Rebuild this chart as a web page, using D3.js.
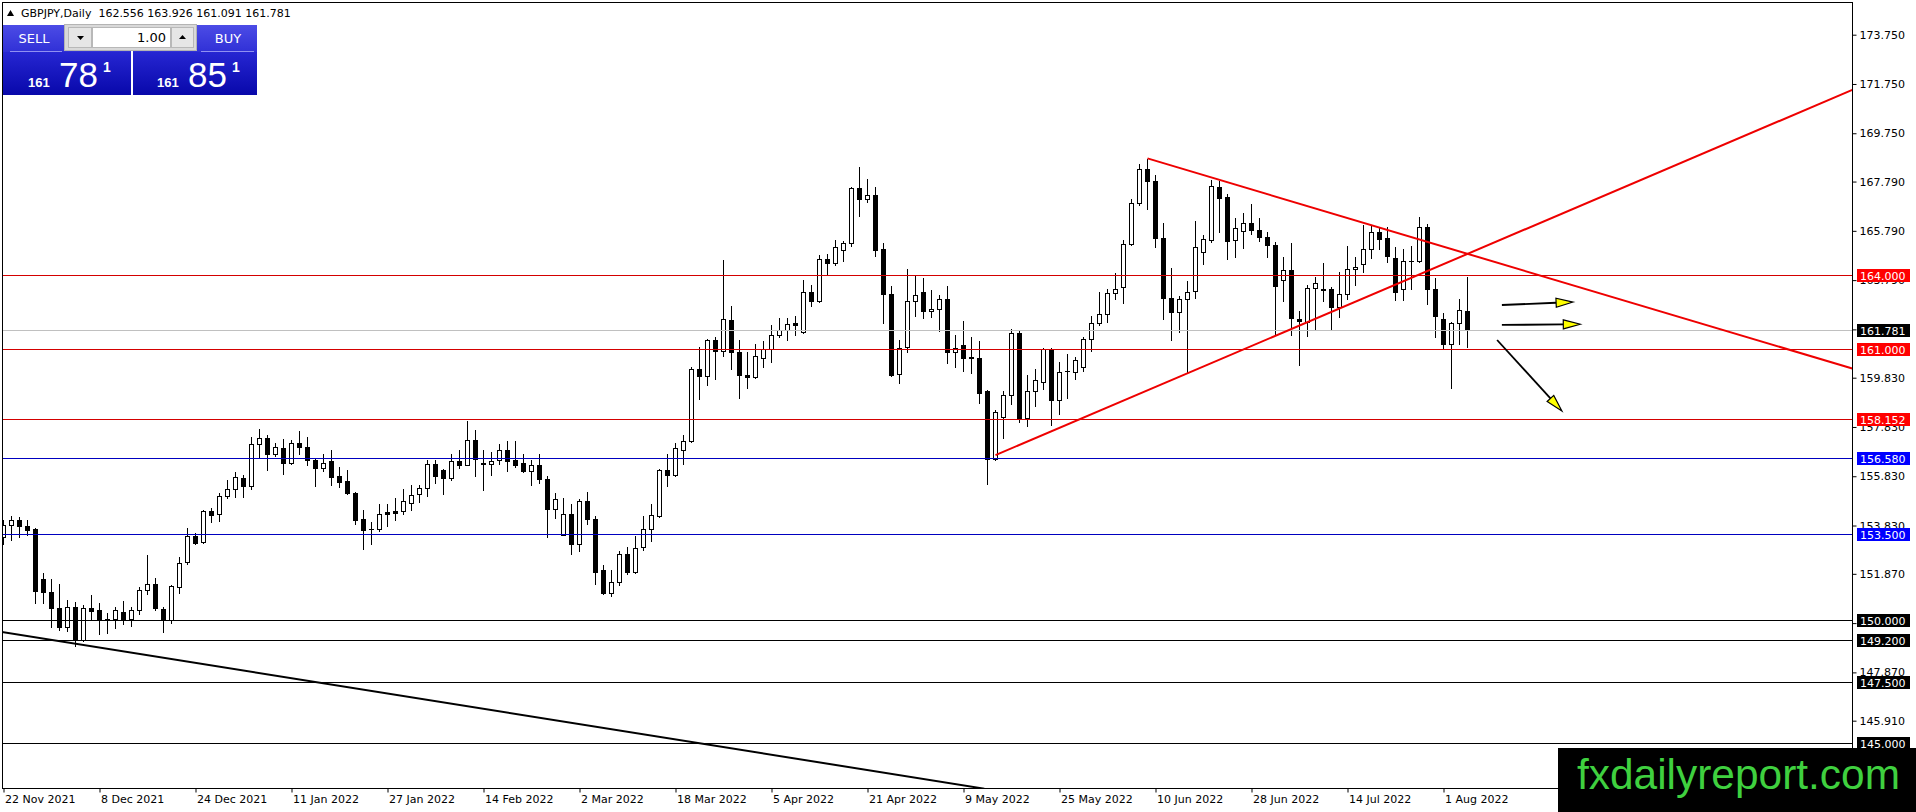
<!DOCTYPE html>
<html><head><meta charset="utf-8">
<script src="https://cdn.jsdelivr.net/npm/d3@7"></script>
<style>
html,body{margin:0;padding:0;background:#fff;overflow:hidden}
svg{display:block}
</style></head><body>
<svg id="c" width="1916" height="812"></svg>
<script>
// ---------------- DATA ----------------
const opens=[153.36,153.86,154.04,153.83,153.67,151.67,151.14,150.49,149.71,150.52,
149.17,150.49,150.41,150.05,150.02,150.34,150.02,150.41,151.2,151.46,
150.46,150.0,151.33,152.34,153.39,153.16,154.4,154.28,155.04,155.31,
155.77,155.43,157.15,157.39,156.74,156.99,156.38,157.19,157.01,156.5,
156.16,156.43,155.82,155.62,155.17,154.11,153.7,153.7,154.36,154.4,
154.4,154.74,155.12,155.36,156.34,156.07,155.77,156.46,156.3,157.31,
156.36,156.31,156.5,156.9,156.47,156.38,156.04,156.3,155.73,154.51,
153.43,154.31,153.09,154.82,154.11,152.01,151.1,151.54,152.66,151.94,
152.96,153.7,154.2,156.09,155.9,156.9,157.26,160.19,159.89,161.34,
160.9,162.19,160.89,159.95,159.85,160.64,161.01,161.57,161.77,162.03,
161.68,163.32,162.93,164.65,164.47,165.01,165.28,167.53,167.08,167.24,
165.05,163.23,159.99,161.07,162.96,163.32,162.53,162.61,163.03,160.86,
161.14,160.65,160.64,159.27,156.54,158.23,159.11,161.65,158.19,159.28,
159.65,161.0,158.93,160.09,160.08,160.26,161.41,162.04,162.42,163.26,
163.5,165.26,166.92,168.3,167.8,165.49,163.07,162.49,163.03,163.34,
164.95,165.42,167.58,167.18,165.42,165.77,166.09,165.82,165.53,165.22,
163.8,164.2,162.23,162.08,163.47,163.43,163.43,162.69,163.23,164.24,
164.45,165.05,165.76,165.5,164.69,163.43,164.58,164.58,165.96,163.43,
162.22,161.2,162.04,162.556];
const highs=[154.04,154.2,154.17,154.04,153.74,151.91,151.64,151.44,150.79,150.72,
150.59,151.0,150.69,150.3,150.52,150.75,150.54,151.33,152.62,151.71,
150.52,151.4,152.57,153.71,153.52,154.44,154.55,155.15,155.66,156.02,
155.9,157.44,157.76,157.49,157.17,157.35,157.31,157.66,157.44,156.58,
156.72,156.9,156.2,156.07,155.2,154.47,153.97,154.72,154.72,154.96,
155.32,155.46,155.46,156.5,156.5,156.13,156.72,156.88,158.07,157.69,
156.88,156.81,157.12,157.28,157.28,156.74,156.5,156.74,155.82,155.15,
154.96,154.69,154.92,155.19,154.2,152.22,152.01,152.8,152.96,153.39,
154.2,154.69,156.13,156.72,157.17,157.49,160.26,161.09,161.4,161.5,
164.61,162.72,161.34,160.86,161.18,161.31,161.95,162.26,162.26,162.35,
163.8,163.61,164.82,164.85,165.42,165.39,167.58,168.39,167.89,167.58,
165.28,163.54,161.36,164.24,163.97,163.88,163.39,163.19,163.57,161.58,
162.15,161.5,161.3,159.34,158.5,159.28,161.81,161.77,159.92,160.19,
161.03,161.04,160.46,160.8,160.66,161.5,162.35,163.32,163.43,164.07,
165.42,167.08,168.5,168.7,168.07,166.09,164.28,163.16,163.74,166.2,
165.64,167.85,167.82,167.28,166.31,166.5,166.88,166.31,165.73,165.32,
164.74,165.28,162.55,163.61,163.93,164.47,163.53,164.11,165.19,164.72,
166.04,166.04,165.96,165.93,165.15,165.05,165.19,166.34,166.07,163.88,
162.45,162.08,163.03,163.926];
const lows=[153.09,153.25,153.36,153.43,150.68,150.68,149.71,149.57,149.55,148.96,
149.14,150.05,149.43,149.46,149.68,149.84,149.76,150.22,151.04,150.41,
149.5,149.87,151.09,152.25,153.1,153.12,153.97,154.01,154.96,154.98,
154.98,155.32,156.61,156.09,156.67,155.93,156.34,156.74,156.27,155.43,
156.04,155.46,155.39,155.12,153.88,152.86,153.09,153.61,153.8,154.07,
154.31,154.45,154.78,155.03,155.55,155.12,155.66,156.17,156.27,155.84,
155.26,155.9,156.31,156.04,156.2,156.0,155.46,155.55,153.36,154.15,
153.43,152.66,152.8,153.88,151.47,151.04,150.96,151.41,151.85,151.9,
152.85,153.2,154.17,155.42,155.82,156.34,157.23,158.97,159.55,159.78,
160.73,160.19,159.0,159.41,159.81,160.26,160.46,161.5,161.34,161.58,
161.64,162.73,162.89,164.0,164.41,164.58,165.16,166.38,166.95,164.76,
162.04,159.9,159.61,160.86,162.35,162.24,162.31,161.74,160.42,160.28,
160.12,160.01,158.8,155.53,156.5,157.39,158.77,158.03,157.85,158.7,
159.38,157.93,158.34,159.01,159.78,160.12,160.91,161.95,162.08,163.03,
162.85,165.23,166.84,166.68,165.12,162.22,161.34,161.68,160.01,163.07,
164.45,165.32,165.73,164.65,164.74,165.08,165.66,165.36,164.74,161.61,
162.96,161.58,160.36,161.54,161.77,162.96,161.78,162.31,163.03,163.61,
164.11,164.69,165.05,164.51,162.99,162.99,163.43,164.51,162.82,161.5,
161.0,159.42,161.18,161.091];
const closes=[153.86,154.04,153.81,153.66,151.17,151.13,150.49,149.71,150.52,149.19,
150.49,150.38,150.0,150.03,150.41,150.0,150.41,151.23,151.46,150.49,
150.0,151.36,152.32,153.39,153.12,154.4,154.24,155.04,155.31,155.8,
155.44,157.12,157.39,156.74,157.01,156.38,157.19,157.01,156.5,156.16,
156.38,155.8,155.59,155.15,154.07,153.66,153.69,154.31,154.31,154.35,
154.81,155.08,155.36,156.34,155.84,155.77,156.45,156.3,157.31,156.54,
156.34,156.45,156.9,156.45,156.3,156.04,156.3,155.73,154.51,154.92,
154.31,153.09,154.82,154.11,151.94,151.1,151.54,152.66,151.94,152.93,
153.7,154.24,156.09,155.9,156.99,157.28,160.19,159.88,161.34,160.9,
162.22,160.86,159.95,159.85,160.69,161.0,161.58,161.77,162.01,161.97,
163.32,162.93,164.65,164.47,165.12,165.28,167.53,167.08,167.24,165.01,
163.23,159.95,161.04,162.96,163.19,162.53,162.62,163.03,160.86,161.04,
160.62,160.64,159.2,156.54,158.43,159.14,161.65,158.19,159.31,159.72,
161.0,158.93,160.08,160.1,160.53,161.41,162.05,162.42,163.26,163.43,
165.26,166.92,168.3,167.8,165.49,163.07,162.49,163.03,163.3,165.15,
165.46,167.62,167.12,165.39,165.91,166.09,165.82,165.53,165.22,163.54,
164.2,162.26,162.12,163.47,163.68,163.39,162.69,163.23,164.24,164.31,
165.05,165.76,165.46,164.76,163.3,164.58,164.58,165.96,163.43,162.32,
161.2,162.04,162.58,161.781];

const dateLabels=["22 Nov 2021","8 Dec 2021","24 Dec 2021","11 Jan 2022","27 Jan 2022","14 Feb 2022","2 Mar 2022","18 Mar 2022","5 Apr 2022","21 Apr 2022","9 May 2022","25 May 2022","10 Jun 2022","28 Jun 2022","14 Jul 2022","1 Aug 2022"];
const dateTickBars=[0,12,24,36,48,60,72,84,96,108,120,132,144,156,168,180];
const priceTickValues=[173.75,171.75,169.75,167.79,165.79,163.79,161.79,159.83,157.83,155.83,153.83,151.87,149.87,147.87,145.91];
const priceTickLabels=["173.750","171.750","169.750","167.790","165.790","163.790","161.790","159.830","157.830","155.830","153.830","151.870","149.870","147.870","145.910"];

const levelPrices=[164.0,161.0,158.152,156.58,153.5,150.0,149.2,147.5,145.0];
const levelTexts=["164.000","161.000","158.152","156.580","153.500","150.000","149.200","147.500","145.000"];
const levelKinds=["red","red","red","blue","blue","black","black","black","black"];
const bidPrice=161.781, bidText="161.781";

// trendlines: start/end as (bar, price)
const trendStartBars=[124,143,-0.45];
const trendStartPrices=[156.69,168.73,149.52];
const trendEndBars=[231.1,231.1,122.6];
const trendEndPrices=[171.51,160.2,143.15];
const trendColors=["#ee0000","#ee0000","#000000"];

// arrowed lines
const arrowStartBars=[187.3,187.3,186.7];
const arrowStartPrices=[162.78,161.97,161.36];
const arrowEndBars=[196.2,197.1,194.8];
const arrowEndPrices=[162.9,162.0,158.48];

const titleText="GBPJPY,Daily  162.556 163.926 161.091 161.781";

// ---------------- DRAW ----------------
const FONT='"DejaVu Sans", sans-serif';
const ARIAL='"Liberation Sans", Arial, sans-serif';
const W=1916,H=812;
const plotL=2.5,plotT=2.5,plotR=1852.5,plotB=788.5;
const svg=d3.select('#c');
svg.append('rect').attr('width',W).attr('height',H).attr('fill','#fff');
const defs=svg.append('defs');
defs.append('clipPath').attr('id','clip').append('rect')
  .attr('x',plotL).attr('y',plotT).attr('width',plotR-plotL).attr('height',plotB-plotT);

const x=d3.scaleLinear().domain([0,231]).range([3.5,3.5+8*231]);
const y=d3.scaleLinear().domain([145,173.75]).range([743.1,34.7]);
const py=p=>Math.round(y(p));

const plot=svg.append('g').attr('clip-path','url(#clip)');

// candles
const data=opens.map((o,i)=>({i,o,h:highs[i],l:lows[i],c:closes[i]}));
const cg=plot.append('g');
cg.selectAll('line.wick').data(data).join('line').attr('class','wick')
  .attr('x1',d=>x(d.i)).attr('x2',d=>x(d.i))
  .attr('y1',d=>py(d.h)).attr('y2',d=>py(d.l)+1)
  .attr('stroke','#000').attr('stroke-width',1);
data.forEach(d=>{
  const top=py(Math.max(d.o,d.c)), bot=py(Math.min(d.o,d.c));
  const cx=x(d.i);
  if(bot-top<2){
    cg.append('rect').attr('x',cx-2.5).attr('y',top).attr('width',5).attr('height',Math.max(1,bot-top+1)).attr('fill','#000');
  } else if(d.c<d.o){
    cg.append('rect').attr('x',cx-2.5).attr('y',top).attr('width',5).attr('height',bot-top+1).attr('fill','#000');
  } else {
    cg.append('rect').attr('x',cx-2).attr('y',top+0.5).attr('width',4).attr('height',bot-top).attr('fill','#fff').attr('stroke','#000').attr('stroke-width',1);
  }
});

// horizontal levels
const lineCol={red:"#d40000",blue:"#0000c0",black:"#000000"};
const boxCol={red:"#ff0000",blue:"#0000ff",black:"#000000"};
plot.append('line').attr('x1',plotL).attr('x2',plotR).attr('y1',py(bidPrice)+0.5).attr('y2',py(bidPrice)+0.5)
  .attr('stroke','#c0c0c0').attr('stroke-width',1);
plot.selectAll('line.lvl').data(levelPrices).join('line').attr('class','lvl')
  .attr('x1',plotL).attr('x2',plotR)
  .attr('y1',d=>py(d)+0.5).attr('y2',d=>py(d)+0.5)
  .attr('stroke',(d,i)=>lineCol[levelKinds[i]]).attr('stroke-width',1);

// trendlines
plot.selectAll('line.tr').data(trendStartBars).join('line').attr('class','tr')
  .attr('x1',(d,i)=>x(d)).attr('y1',(d,i)=>y(trendStartPrices[i]))
  .attr('x2',(d,i)=>x(trendEndBars[i])).attr('y2',(d,i)=>y(trendEndPrices[i]))
  .attr('stroke',(d,i)=>trendColors[i]).attr('stroke-width',2);

// arrows
arrowStartBars.forEach((b,i)=>{
  const x1=x(b),y1=y(arrowStartPrices[i]),x2=x(arrowEndBars[i]),y2=y(arrowEndPrices[i]);
  const dx=x2-x1,dy=y2-y1,len=Math.hypot(dx,dy),ux=dx/len,uy=dy/len,nx=-uy,ny=ux;
  const L=17,Wd=4.5;
  const bx=x2-ux*L,by=y2-uy*L;
  svg.append('line').attr('x1',x1).attr('y1',y1).attr('x2',bx).attr('y2',by).attr('stroke','#000').attr('stroke-width',1.8);
  svg.append('path').attr('d',`M${x2},${y2}L${bx+nx*Wd},${by+ny*Wd}L${bx-nx*Wd},${by-ny*Wd}Z`)
    .attr('fill','#ffff00').attr('stroke','#000').attr('stroke-width',1.2);
});

// frame
svg.append('rect').attr('x',plotL).attr('y',plotT).attr('width',plotR-plotL).attr('height',plotB-plotT)
  .attr('fill','none').attr('stroke','#000').attr('stroke-width',1);

// price axis
const ya=svg.append('g').attr('transform',`translate(${plotR},0)`)
  .call(d3.axisRight(y).tickValues(priceTickValues).tickFormat((d,i)=>priceTickLabels[i]).tickSize(4).tickPadding(3));
ya.select('.domain').remove();
ya.selectAll('text').style('font-family',FONT).style('font-size','11px').attr('fill','#000');
ya.selectAll('line').attr('stroke','#000');

// date axis
const xa=svg.append('g').attr('transform',`translate(0,${plotB})`)
  .call(d3.axisBottom(x).tickValues(dateTickBars).tickFormat((d,i)=>dateLabels[i]).tickSize(4));
xa.select('.domain').remove();
xa.selectAll('text').style('font-family',FONT).style('font-size','11px').attr('fill','#000')
  .attr('text-anchor','start').attr('x',1).attr('y',7);
xa.selectAll('line').attr('stroke','#000');

// level label boxes
const lb=svg.append('g');
function priceBox(p,t,bg){
  const cy=py(p)+0.5;
  lb.append('rect').attr('x',1857).attr('y',cy-6.5).attr('width',53).attr('height',13).attr('fill',bg);
  lb.append('text').attr('x',1860).attr('y',cy+4).style('font-family',FONT).style('font-size','11px').attr('fill','#fff').text(t);
}
priceBox(bidPrice,bidText,'#000');
levelPrices.forEach((p,i)=>priceBox(p,levelTexts[i],boxCol[levelKinds[i]]));

// title
svg.append('path').attr('d','M7,16L10.5,10L14,16Z').attr('fill','#000');
svg.append('text').attr('x',21).attr('y',17).style('font-family',FONT).style('font-size','11px').style('white-space','pre').attr('fill','#000').text(titleText);

// trade panel
const gt=defs.append('linearGradient').attr('id','gTop').attr('x1',0).attr('y1',0).attr('x2',0).attr('y2',1);
gt.append('stop').attr('offset',0).attr('stop-color','#4c4ce6');
gt.append('stop').attr('offset',1).attr('stop-color','#3030d6');
const gb=defs.append('linearGradient').attr('id','gBig').attr('x1',0).attr('y1',0).attr('x2',0).attr('y2',1);
gb.append('stop').attr('offset',0).attr('stop-color','#2626d2');
gb.append('stop').attr('offset',1).attr('stop-color','#0808aa');
const pn=svg.append('g');
[[3,128],[133,124]].forEach(([px,pw])=>{
  pn.append('rect').attr('x',px).attr('y',25).attr('width',pw).attr('height',27).attr('fill','url(#gTop)');
  pn.append('rect').attr('x',px).attr('y',52).attr('width',pw).attr('height',43).attr('fill','url(#gBig)');
});
pn.append('line').attr('x1',10).attr('x2',62).attr('y1',51.5).attr('y2',51.5).attr('stroke','#9090f2');
pn.append('line').attr('x1',201).attr('x2',254).attr('y1',51.5).attr('y2',51.5).attr('stroke','#9090f2');
pn.append('rect').attr('x',64.5).attr('y',24.5).attr('width',132).attr('height',26).attr('fill','#d9d9d9').attr('stroke','#b4b4b4');
pn.append('rect').attr('x',68.5).attr('y',27.5).attr('width',23).attr('height',20).attr('fill','#e6e6e6').attr('stroke','#b8b8b8');
pn.append('rect').attr('x',92.5).attr('y',27.5).attr('width',78).attr('height',20).attr('fill','#fff').attr('stroke','#b8b8b8');
pn.append('rect').attr('x',171.5).attr('y',27.5).attr('width',22).attr('height',20).attr('fill','#e6e6e6').attr('stroke','#b8b8b8');
pn.append('path').attr('d','M77,36L84,36L80.5,40Z').attr('fill','#000');
pn.append('path').attr('d','M179,39L186,39L182.5,35Z').attr('fill','#000');
pn.append('text').attr('x',166).attr('y',42).attr('text-anchor','end').style('font-family',FONT).style('font-size','13px').attr('fill','#000').text('1.00');
pn.append('text').attr('x',34).attr('y',43).attr('text-anchor','middle').style('font-family',FONT).style('font-size','13px').attr('fill','#fff').text('SELL');
pn.append('text').attr('x',228).attr('y',43).attr('text-anchor','middle').style('font-family',FONT).style('font-size','13px').attr('fill','#fff').text('BUY');
function bigPrice(x0,big){
  pn.append('text').attr('x',x0).attr('y',87).style('font-family',ARIAL).style('font-weight','bold').style('font-size','13px').attr('fill','#fff').text('161');
  pn.append('text').attr('x',x0+31).attr('y',87).style('font-family',ARIAL).style('font-size','35px').attr('fill','#fff').text(big);
  pn.append('text').attr('x',x0+75).attr('y',72).style('font-family',ARIAL).style('font-weight','bold').style('font-size','14px').attr('fill','#fff').text('1');
}
bigPrice(28,'78');
bigPrice(157,'85');

// watermark
svg.append('rect').attr('x',1558).attr('y',748).attr('width',W-1558).attr('height',H-748).attr('fill','#000');
svg.append('text').attr('x',1577).attr('y',789).style('font-family',ARIAL).style('font-size','42px')
  .attr('textLength',323).attr('lengthAdjust','spacingAndGlyphs').attr('fill','#3fd03f').text('fxdailyreport.com');
</script>
</body></html>
